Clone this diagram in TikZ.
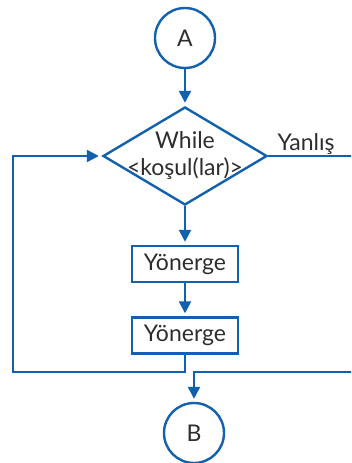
\documentclass[tikz,border=0pt]{standalone}
\usepackage{fontspec}
\setmainfont{Lato}
\usetikzlibrary{shapes.geometric,arrows.meta}
\definecolor{flowblue}{RGB}{18,96,176}
\definecolor{flowtext}{RGB}{45,45,45}
\tikzset{
  flowline/.style={draw=flowblue,line width=2.4pt},
  flowarrow/.style={flowline,-{Triangle[length=12pt,width=12pt]},shorten >=3pt},
  connector/.style={draw=flowblue,line width=2.4pt,circle,minimum size=60pt,inner sep=0pt,text=flowtext,font=\fontsize{23}{27}\selectfont},
  decision/.style={draw=flowblue,line width=2.4pt,diamond,minimum width=164pt,minimum height=98pt,inner sep=0pt},
  process/.style={draw=flowblue,line width=2.4pt,rectangle,minimum width=106pt,minimum height=36pt,inner sep=0pt,text=flowtext,font=\fontsize{23}{27}\selectfont},
  flowlabel/.style={text=flowtext,font=\fontsize{23}{27}\selectfont,inner sep=0pt}
}
\begin{document}
\begin{tikzpicture}[x=1pt,y=-1pt]
\useasboundingbox (0,0) rectangle (351,463);
\clip (0,0) rectangle (351,463);
\node[connector] (A) at (185,38) {A};
\node[decision] (cond) at (185,156) {};
\node[flowlabel,align=center] (condtext) at (185,156) {While\\<koşul(lar)>};
\node[process] (step1) at (185,264) {Yönerge};
\node[process] (step2) at (185,335.5) {Yönerge};
\node[connector] (B) at (194,433) {B};
\node[flowlabel,anchor=base] (false) at (306,150) {Yanlış};
\coordinate (loopcorner) at (13,372);
\coordinate (exittop) at (360,156);
\coordinate (exitbottom) at (360,372);
\draw[flowarrow] (A) -- (cond);
\draw[flowarrow] (cond) -- (step1);
\draw[flowarrow] (step1) -- (step2);
\draw[flowarrow] (step2.south) |- (loopcorner) |- (cond.west);
\draw[flowarrow] (cond.east) -- (exittop) -- (exitbottom) -| (B.north);
\end{tikzpicture}
\end{document}
